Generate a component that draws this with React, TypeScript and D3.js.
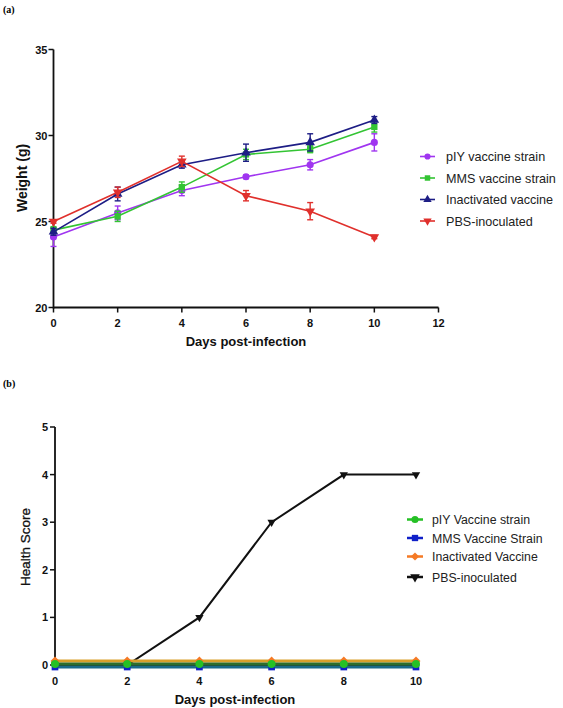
import React from "react";
import * as d3 from "d3";

// ---------- Data ----------
const daysA = [0, 2, 4, 6, 8, 10];
const pIYWeight = [24.1, 25.5, 26.8, 27.6, 28.3, 29.6];
const pIYErr = [0.55, 0.4, 0.3, 0.1, 0.3, 0.5];
const mmsWeight = [24.5, 25.3, 27.0, 28.9, 29.2, 30.5];
const mmsErr = [0.2, 0.3, 0.3, 0.3, 0.2, 0.3];
const inactWeight = [24.4, 26.6, 28.3, 29.0, 29.6, 30.9];
const inactErr = [0.2, 0.4, 0.2, 0.5, 0.5, 0.2];
const pbsWeight = [25.0, 26.7, 28.5, 26.5, 25.6, 24.1];
const pbsErr = [0.1, 0.3, 0.3, 0.3, 0.5, 0.1];
const xTicksA = [0, 2, 4, 6, 8, 10, 12];
const yTicksA = [20, 25, 30, 35];

const daysB = [0, 2, 4, 6, 8, 10];
const pIYScore = [0, 0, 0, 0, 0, 0];
const mmsScore = [0, 0, 0, 0, 0, 0];
const inactScore = [0, 0, 0, 0, 0, 0];
const pbsScore = [0, 0, 1, 3, 4, 4];
const xTicksB = [0, 2, 4, 6, 8, 10];
const yTicksB = [0, 1, 2, 3, 4, 5];

const FONT = "'Liberation Sans', Arial, Helvetica, sans-serif";

type SeriesA = { name: string; values: number[]; err: number[]; color: string; symbol: any; rotate: number };
const seriesA: SeriesA[] = [
  { name: "pIY vaccine strain", values: pIYWeight, err: pIYErr, color: "#a035f0", symbol: d3.symbolCircle, rotate: 0 },
  { name: "MMS vaccine strain", values: mmsWeight, err: mmsErr, color: "#33c433", symbol: d3.symbolSquare, rotate: 0 },
  { name: "Inactivated vaccine", values: inactWeight, err: inactErr, color: "#1d1d85", symbol: d3.symbolTriangle, rotate: 0 },
  { name: "PBS-inoculated", values: pbsWeight, err: pbsErr, color: "#e0302c", symbol: d3.symbolTriangle, rotate: 180 },
];

type SeriesB = { name: string; values: number[]; color: string; lineColor: string; symbol: any; rotate: number; dy: number; size: number };
const seriesB: SeriesB[] = [
  { name: "PBS-inoculated", values: pbsScore, color: "#111111", lineColor: "#111111", symbol: d3.symbolTriangle, rotate: 180, dy: 0, size: 30 },
  { name: "Inactivated Vaccine", values: inactScore, color: "#f57a25", lineColor: "#d9a02a", symbol: d3.symbolSquare, rotate: 45, dy: -4, size: 40 },
  { name: "MMS Vaccine Strain", values: mmsScore, color: "#1020c8", lineColor: "#1a6a8a", symbol: d3.symbolSquare, rotate: 0, dy: 2, size: 45 },
  { name: "pIY Vaccine strain", values: pIYScore, color: "#25c025", lineColor: "#2d6e2d", symbol: d3.symbolCircle, rotate: 0, dy: -1, size: 50 },
];
const legendOrderB = ["pIY Vaccine strain", "MMS Vaccine Strain", "Inactivated Vaccine", "PBS-inoculated"];

export default function App() {
  // Panel (a)
  const xA = d3.scaleLinear().domain([0, 12]).range([53.5, 438.5]);
  const yA = d3.scaleLinear().domain([20, 35]).range([307.5, 49.5]);
  const lineA = d3.line<number>().x((_, i) => xA(daysA[i])).y((d) => yA(d));

  // Panel (b)
  const xB = d3.scaleLinear().domain([0, 10]).range([55, 416]);
  const yB = d3.scaleLinear().domain([0, 5]).range([665, 427]);
  const lineB = d3.line<number>().x((_, i) => xB(daysB[i])).y((d) => yB(d));

  const sym = (s: any, size: number) => d3.symbol().type(s).size(size)() || "";

  return (
    <svg width={563} height={708} style={{ position: "absolute", left: 0, top: 0, background: "#fff" }} fontFamily={FONT}>
      <rect width={563} height={708} fill="#fff" />
      {/* ---------- Panel (a) ---------- */}
      <text x={3} y={13} fontSize={10} fontWeight="bold" fontFamily="'Liberation Serif', serif">(a)</text>
      {/* axes */}
      <line x1={xA(0)} x2={xA(12)} y1={yA(20)} y2={yA(20)} stroke="#111" strokeWidth={1.8} />
      <line x1={xA(0)} x2={xA(0)} y1={yA(20) + 1} y2={yA(35)} stroke="#111" strokeWidth={1.8} />
      {xTicksA.map((t) => (
        <g key={"xa" + t}>
          <line x1={xA(t)} x2={xA(t)} y1={yA(20)} y2={yA(20) + 5} stroke="#111" strokeWidth={1.5} />
          <text x={xA(t)} y={yA(20) + 19} textAnchor="middle" fontSize={11} fontWeight="bold" fill="#111">{t}</text>
        </g>
      ))}
      {yTicksA.map((t) => (
        <g key={"ya" + t}>
          <line x1={xA(0) - 5} x2={xA(0)} y1={yA(t)} y2={yA(t)} stroke="#111" strokeWidth={1.5} />
          <text x={xA(0) - 6} y={yA(t) + 4} textAnchor="end" fontSize={11} fontWeight="bold" fill="#111">{t}</text>
        </g>
      ))}
      <text x={246} y={346} textAnchor="middle" fontSize={13} fontWeight="bold" fill="#111">Days post-infection</text>
      <text transform={`translate(27,178) rotate(-90)`} textAnchor="middle" fontSize={14} fontWeight="bold" fill="#111">Weight (g)</text>
      {/* series */}
      {seriesA.map((s) => (
        <g key={s.name}>
          <path d={lineA(s.values) || ""} fill="none" stroke={s.color} strokeWidth={1.6} />
          {s.values.map((v, i) => {
            const x = xA(daysA[i]);
            const y1 = yA(v - s.err[i]);
            const y2 = yA(v + s.err[i]);
            return (
              <g key={i}>
                <line x1={x} x2={x} y1={y1} y2={y2} stroke={s.color} strokeWidth={1.4} />
                <line x1={x - 3} x2={x + 3} y1={y1} y2={y1} stroke={s.color} strokeWidth={1.4} />
                <line x1={x - 3} x2={x + 3} y1={y2} y2={y2} stroke={s.color} strokeWidth={1.4} />
                <path d={sym(s.symbol, 40)} transform={`translate(${x},${yA(v)}) rotate(${s.rotate})`} fill={s.color} />
              </g>
            );
          })}
        </g>
      ))}
      {/* legend (a) */}
      {seriesA.map((s, i) => {
        const y = 156.5 + i * 21.5;
        return (
          <g key={"la" + s.name}>
            <line x1={420} x2={435} y1={y} y2={y} stroke={s.color} strokeWidth={1.6} />
            <path d={sym(s.symbol, 30)} transform={`translate(427.5,${y}) rotate(${s.rotate})`} fill={s.color} />
            <text x={446} y={y + 4.5} fontSize={12.6} fill="#222">{s.name}</text>
          </g>
        );
      })}

      {/* ---------- Panel (b) ---------- */}
      <text x={3} y={387} fontSize={10} fontWeight="bold" fontFamily="'Liberation Serif', serif">(b)</text>
      <line x1={xB(0)} x2={xB(10)} y1={yB(0)} y2={yB(0)} stroke="#111" strokeWidth={1.8} />
      <line x1={xB(0)} x2={xB(0)} y1={yB(0)} y2={yB(5)} stroke="#111" strokeWidth={1.8} />
      {xTicksB.map((t) => (
        <g key={"xb" + t}>
          <line x1={xB(t)} x2={xB(t)} y1={yB(0)} y2={yB(0) + 5} stroke="#111" strokeWidth={1.5} />
          <text x={xB(t)} y={yB(0) + 20} textAnchor="middle" fontSize={11} fontWeight="bold" fill="#111">{t}</text>
        </g>
      ))}
      {yTicksB.map((t) => (
        <g key={"yb" + t}>
          <line x1={xB(0) - 5} x2={xB(0)} y1={yB(t)} y2={yB(t)} stroke="#111" strokeWidth={1.5} />
          <text x={xB(0) - 7} y={yB(t) + 4} textAnchor="end" fontSize={11} fontWeight="bold" fill="#111">{t}</text>
        </g>
      ))}
      <text x={235} y={704} textAnchor="middle" fontSize={13} fontWeight="bold" fill="#111">Days post-infection</text>
      <text transform={`translate(30,547) rotate(-90)`} textAnchor="middle" fontSize={13.5} fill="#111" stroke="#111" strokeWidth={0.3}>Health Score</text>
      {seriesB.map((s) => (
        <g key={s.name} transform={`translate(0,${s.dy})`}>
          <path d={lineB(s.values) || ""} fill="none" stroke={s.lineColor} strokeWidth={s.name === "PBS-inoculated" ? 2 : 3} />
          {s.values.map((v, i) => (
            <path key={i} d={sym(s.symbol, s.size)} transform={`translate(${xB(daysB[i])},${yB(v)}) rotate(${s.rotate})`} fill={s.color} />
          ))}
        </g>
      ))}
      {/* legend (b) */}
      {legendOrderB.map((name, i) => {
        const s = seriesB.find((d) => d.name === name)!;
        const y = [519.5, 538, 556.5, 577][i];
        return (
          <g key={"lb" + name}>
            <line x1={407} x2={423} y1={y} y2={y} stroke={s.color} strokeWidth={2.5} />
            <path d={sym(s.symbol, s.rotate === 45 ? 34 : 40)} transform={`translate(415,${y}) rotate(${s.rotate})`} fill={s.color} />
            <text x={432} y={y + 4.5} fontSize={12.3} fill="#222">{name}</text>
          </g>
        );
      })}
    </svg>
  );
}
